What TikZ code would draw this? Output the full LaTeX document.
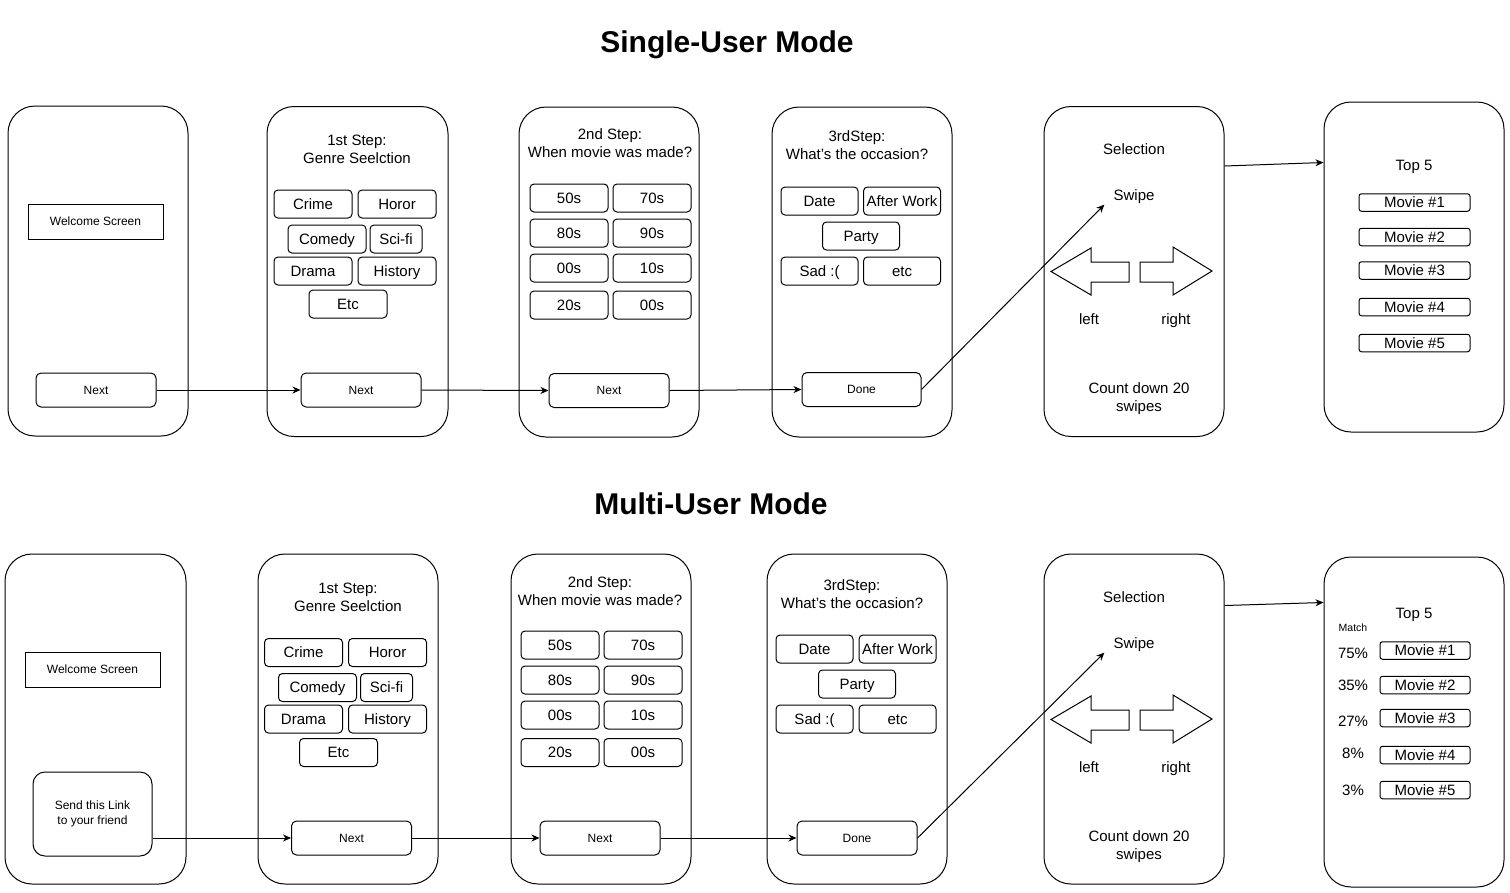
\documentclass[tikz,border=0pt]{standalone}
\usepackage{fontspec}
\setmainfont{Liberation Sans}
\usetikzlibrary{arrows.meta,calc}
\tikzset{
  fbig/.style={font=\fontsize{15}{18}\selectfont},
  fsmall/.style={font=\fontsize{12}{15}\selectfont},
  tbig/.style={inner sep=0pt, fbig, text height=12.75pt, text depth=2.1pt},
  tsmall/.style={inner sep=0pt, fsmall, text height=10.2pt, text depth=1.7pt},
  phone/.style={draw, line width=1pt, rounded corners=27pt, minimum width=180pt, minimum height=330pt, inner sep=0pt},
  optbtn/.style={tbig, draw, line width=1pt, rounded corners=4pt, minimum width=78pt, minimum height=28pt},
  navbtn/.style={tsmall, draw, line width=1pt, rounded corners=5pt, minimum width=120pt, minimum height=34pt},
  screenbox/.style={tsmall, draw, line width=1pt, minimum width=135pt, minimum height=35pt},
  moviebox/.style={tbig, draw, line width=1pt, rounded corners=2.5pt, minimum height=17.5pt},
  lbl/.style={tbig},
  steptitle/.style={fbig, align=center, anchor=base, inner sep=0pt},
  modetitle/.style={font=\bfseries\fontsize{30}{36}\selectfont, inner sep=0pt, text height=25.5pt, text depth=4.2pt},
  conn/.style={-{Stealth[length=8pt,width=7pt,inset=2.5pt]}, line width=1pt},
  swipearrow/.style={draw, line width=1pt, line join=miter},
}
\begin{document}
\begin{tikzpicture}[x=1pt,y=-1pt]
\useasboundingbox (0,0) rectangle (1510,892);

% ================= Titles =================
\node[modetitle] (single) at (727,42) {Single-User Mode};
\node[modetitle] (multi) at (711,504) {Multi-User Mode};

% ================= Single-user row =================
\node[phone] (t1) at (98,271) {};
\node[phone, minimum width=181pt] (t2) at (357.5,271.5) {};
\node[phone] (t3) at (609,272) {};
\node[phone] (t4) at (862,272) {};
\node[phone] (t5) at (1134,271.5) {};
\node[phone] (t6) at (1414,267) {};

% screen 1
\node[screenbox] (twelcome) at (95.5,221.5) {Welcome Screen};
\node[navbtn] (tnext1) at (96,390) {Next};

% screen 2
\node[steptitle] (ttitle2) at (357,163) {1st Step:\\Genre Seelction};
\node[optbtn] (tcrime) at (313,204) {Crime};
\node[optbtn] (thoror) at (397,204) {Horor};
\node[optbtn] (tcomedy) at (327,239) {Comedy};
\node[optbtn, minimum width=52pt] (tscifi) at (396,239) {Sci-fi};
\node[optbtn] (tdrama) at (313,271) {Drama};
\node[optbtn] (thistory) at (397,271) {History};
\node[optbtn] (tetc) at (348,304) {Etc};
\node[navbtn] (tnext2) at (361,390) {Next};

% screen 3
\node[steptitle] (ttitle3) at (610,157.5) {2nd Step:\\When movie was made?};
\node[optbtn] (t50) at (569,198) {50s};
\node[optbtn] (t70) at (652,198) {70s};
\node[optbtn] (t80) at (569,233) {80s};
\node[optbtn] (t90) at (652,233) {90s};
\node[optbtn] (t00a) at (569,268) {00s};
\node[optbtn] (t10) at (652,268) {10s};
\node[optbtn] (t20) at (569,305) {20s};
\node[optbtn] (t00b) at (652,305) {00s};
\node[navbtn] (tnext3) at (609,390.5) {Next};

% screen 4
\node[steptitle] (ttitle4) at (857,159.5) {3rdStep:\\What's the occasion?};
\node[optbtn, minimum width=77pt] (tdate) at (819.5,201) {Date};
\node[optbtn, minimum width=77pt] (tafter) at (902,201) {After Work};
\node[optbtn, minimum width=77pt] (tparty) at (861,236) {Party};
\node[optbtn, minimum width=77pt] (tsad) at (819.5,271) {Sad :(};
\node[optbtn, minimum width=77pt] (tetc2) at (902,271) {etc};
\node[navbtn, minimum width=119pt] (tdone) at (861.5,389.5) {Done};

% screen 5
\node[lbl] (tsel) at (1134,149) {Selection};
\node[lbl, inner xsep=9pt, inner ysep=2pt] (tswipe) at (1134,195) {Swipe};
\draw[swipearrow] (1051,271.5) -- (1091,248) -- (1091,262) -- (1129,262) -- (1129,282) -- (1091,282) -- (1091,295) -- cycle;
\draw[swipearrow] (1140,262) -- (1173,262) -- (1173,247) -- (1212,271) -- (1173,295) -- (1173,282) -- (1140,282) -- cycle;
\node[lbl] (tleft) at (1089,319) {left};
\node[lbl] (tright) at (1176,319) {right};
\node[steptitle] (tcount) at (1139,411.3) {Count down 20\\swipes};

% screen 6
\node[lbl] (ttop) at (1414,165) {Top 5};
\node[moviebox, minimum width=111pt] (tm1) at (1414.5,202.5) {Movie \#1};
\node[moviebox, minimum width=111pt] (tm2) at (1414.5,237) {Movie \#2};
\node[moviebox, minimum width=111pt] (tm3) at (1414.5,270.5) {Movie \#3};
\node[moviebox, minimum width=111pt] (tm4) at (1414.5,307) {Movie \#4};
\node[moviebox, minimum width=111pt] (tm5) at (1414.5,343) {Movie \#5};

% connectors
\draw[conn] (tnext1.east) -- (tnext2.west);
\draw[conn] (tnext2.east) -- (tnext3.west);
\draw[conn] (tnext3.east) -- (tdone.west);
\draw[conn] (tdone.east) -- (tswipe.south west);
\draw[conn] ($(t5.north east)+(0,60)$) -- ($(t6.north west)+(0,61)$);

% ================= Multi-user row =================
\node[phone, minimum width=181pt] (b1) at (95.5,719) {};
\node[phone] (b2) at (348,719) {};
\node[phone] (b3) at (601,719) {};
\node[phone] (b4) at (857,719) {};
\node[phone] (b5) at (1134,719) {};
\node[phone] (b6) at (1414,722) {};

% screen 1
\node[screenbox] (bwelcome) at (92.5,669.5) {Welcome Screen};
\node[fsmall, draw, line width=1pt, rounded corners=12pt, minimum width=119pt, minimum height=84pt, inner sep=0pt, align=center] (bsend) at (92.5,814) {Send this Link\\to your friend};

% screen 2
\node[steptitle] (btitle2) at (348,611.3) {1st Step:\\Genre Seelction};
\node[optbtn] (bcrime) at (303.5,652.5) {Crime};
\node[optbtn] (bhoror) at (387.5,652.5) {Horor};
\node[optbtn] (bcomedy) at (317.5,687.5) {Comedy};
\node[optbtn, minimum width=52pt] (bscifi) at (386.5,687.5) {Sci-fi};
\node[optbtn] (bdrama) at (303.5,719) {Drama};
\node[optbtn] (bhistory) at (387.5,719) {History};
\node[optbtn] (betc) at (338.5,752.5) {Etc};
\node[navbtn] (bnext2) at (351.5,838) {Next};

% screen 3
\node[steptitle] (btitle3) at (600,605.3) {2nd Step:\\When movie was made?};
\node[optbtn] (b50) at (560,645) {50s};
\node[optbtn] (b70) at (643,645) {70s};
\node[optbtn] (b80) at (560,680) {80s};
\node[optbtn] (b90) at (643,680) {90s};
\node[optbtn] (b00a) at (560,715) {00s};
\node[optbtn] (b10) at (643,715) {10s};
\node[optbtn] (b20) at (560,752.5) {20s};
\node[optbtn] (b00b) at (643,752.5) {00s};
\node[navbtn] (bnext3) at (600,838) {Next};

% screen 4
\node[steptitle] (btitle4) at (852,608.3) {3rdStep:\\What's the occasion?};
\node[optbtn, minimum width=77pt] (bdate) at (814.5,649) {Date};
\node[optbtn, minimum width=77pt] (bafter) at (897.5,649) {After Work};
\node[optbtn, minimum width=77pt] (bparty) at (857,684) {Party};
\node[optbtn, minimum width=77pt] (bsad) at (814.5,719) {Sad :(};
\node[optbtn, minimum width=77pt] (betc2) at (897.5,719) {etc};
\node[navbtn] (bdone) at (857,838) {Done};

% screen 5
\node[lbl] (bsel) at (1134,597) {Selection};
\node[lbl, inner xsep=9pt, inner ysep=2pt] (bswipe) at (1134,643) {Swipe};
\draw[swipearrow] (1051,719.5) -- (1091,696) -- (1091,710) -- (1129,710) -- (1129,730) -- (1091,730) -- (1091,743) -- cycle;
\draw[swipearrow] (1140,710) -- (1173,710) -- (1173,695) -- (1212,719) -- (1173,743) -- (1173,730) -- (1140,730) -- cycle;
\node[lbl] (bleft) at (1089,767) {left};
\node[lbl] (bright) at (1176,767) {right};
\node[steptitle] (bcount) at (1139,859.3) {Count down 20\\swipes};

% screen 6
\node[lbl] (btop) at (1414,613) {Top 5};
\node[inner sep=0pt, font=\fontsize{10.5}{12}\selectfont, text height=8.9pt, text depth=1.5pt] (bmatch) at (1353,628) {Match};
\node[lbl] (bp1) at (1353,653) {75\%};
\node[lbl] (bp2) at (1353,685) {35\%};
\node[lbl] (bp3) at (1353,721) {27\%};
\node[lbl] (bp4) at (1353,753) {8\%};
\node[lbl] (bp5) at (1353,790) {3\%};
\node[moviebox, minimum width=90pt] (bm1) at (1425,650.5) {Movie \#1};
\node[moviebox, minimum width=90pt] (bm2) at (1425,685) {Movie \#2};
\node[moviebox, minimum width=90pt] (bm3) at (1425,718) {Movie \#3};
\node[moviebox, minimum width=90pt] (bm4) at (1425,755) {Movie \#4};
\node[moviebox, minimum width=90pt] (bm5) at (1425,790) {Movie \#5};

% connectors
\draw[conn] (bsend.east |- bnext2.west) -- (bnext2.west);
\draw[conn] (bnext2.east) -- (bnext3.west);
\draw[conn] (bnext3.east) -- (bdone.west);
\draw[conn] (bdone.east) -- (bswipe.south west);
\draw[conn] ($(b5.north east)+(0,52)$) -- ($(b6.north west)+(0,46)$);
\end{tikzpicture}
\end{document}
